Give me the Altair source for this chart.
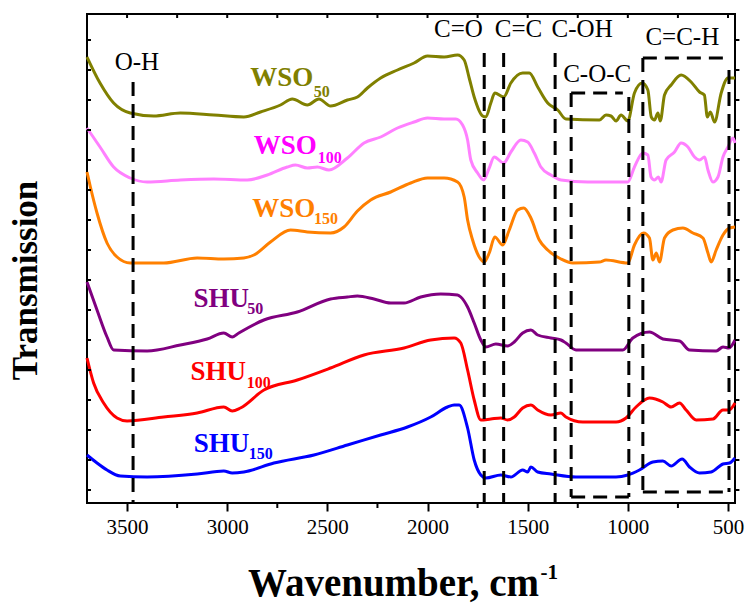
import altair as alt
import pandas as pd

# ---------------- data (wavenumber in cm^-1, transmission in arbitrary offset units) -------------
wso50_wn = [3700, 3635, 3567, 3484, 3367, 3234, 3067, 2917, 2834, 2734, 2675, 2600, 2542, 2484, 2400,
            2350, 2300, 2234, 2150, 2067, 2000, 1917, 1850, 1817, 1792, 1767, 1725, 1709, 1684, 1664,
            1620, 1584, 1525, 1492, 1450, 1400, 1350, 1309, 1142, 1109, 1084, 1059, 1034, 1000, 967,
            928, 900, 883, 867, 850, 838, 817, 784, 734, 684, 642, 618, 603, 588, 567, 534, 500, 465]
wso50_t = [433, 407, 387, 377, 374, 377, 375, 373, 378, 385, 391, 385, 391, 384, 390,
           393, 402, 412, 420, 427, 434, 433, 435, 430, 412, 393, 374, 373, 387, 397,
           393, 407, 417, 417, 403, 387, 380, 371, 370, 375, 374, 369, 375, 369, 397,
           407, 400, 373, 370, 377, 369, 395, 405, 415, 408, 398, 395, 373, 378, 368, 397, 412, 412]

wso100_wn = [3700, 3635, 3567, 3484, 3400, 3234, 3067, 2900, 2800, 2700, 2659, 2600, 2550, 2492, 2400,
             2317, 2234, 2150, 2067, 2000, 1917, 1859, 1825, 1800, 1784, 1750, 1720, 1692, 1667, 1620,
             1584, 1534, 1500, 1467, 1434, 1384, 1334, 1200, 1000, 967, 925, 900, 884, 867, 847,
             834, 809, 767, 734, 700, 667, 642, 617, 600, 575, 550, 525, 500, 475, 465]
wso100_t = [362, 343, 323, 312, 308, 310, 311, 310, 315, 323, 325, 322, 323, 320, 332,
            347, 353, 362, 368, 372, 371, 371, 365, 350, 330, 317, 310, 322, 333, 327,
            338, 350, 348, 337, 323, 315, 310, 308, 308, 323, 337, 335, 313, 310, 313,
            308, 330, 338, 347, 343, 333, 330, 333, 320, 308, 313, 333, 343, 352, 347]

wso150_wn = [3700, 3683, 3650, 3600, 3550, 3484, 3317, 3150, 3017, 2917, 2867, 2784, 2684, 2600, 2484,
             2417, 2350, 2284, 2184, 2084, 2000, 1917, 1850, 1817, 1800, 1775, 1742, 1717, 1692, 1664,
             1625, 1592, 1550, 1520, 1484, 1442, 1400, 1334, 1275, 1142, 1109, 1000, 967, 922, 892,
             875, 858, 842, 817, 775, 725, 675, 625, 600, 584, 559, 525, 492, 465]
wso150_t = [318, 303, 277, 247, 233, 227, 227, 232, 231, 232, 235, 248, 260, 258, 257,
            263, 279, 290, 298, 307, 312, 312, 308, 293, 270, 250, 233, 228, 237, 253,
            245, 260, 280, 282, 272, 250, 240, 231, 227, 228, 230, 227, 245, 257, 252,
            230, 237, 228, 252, 260, 262, 257, 252, 237, 228, 240, 255, 262, 263]

shu50_wn = [3700, 3650, 3600, 3567, 3400, 3234, 3100, 3017, 2975, 2942, 2817, 2650, 2484, 2400, 2350,
            2267, 2184, 2117, 2034, 1934, 1850, 1834, 1800, 1767, 1734, 1709, 1659, 1600, 1567, 1525,
            1484, 1450, 1384, 1334, 1309, 1259, 1025, 975, 892, 825, 742, 692, 559, 525, 495, 465]
shu50_t = [208, 180, 153, 140, 139, 145, 151, 157, 153, 157, 170, 178, 191, 193, 194,
           191, 187, 187, 193, 196, 195, 193, 183, 167, 150, 143, 146, 144, 148, 157,
           160, 155, 152, 150, 147, 140, 140, 152, 158, 151, 149, 140, 139, 143, 142, 150]

shu100_wn = [3700, 3667, 3617, 3550, 3500, 3317, 3150, 3017, 2975, 2934, 2817, 2650, 2484, 2317, 2117,
             1984, 1867, 1834, 1800, 1767, 1734, 1684, 1634, 1600, 1567, 1525, 1484, 1450, 1384, 1334,
             1309, 1225, 1059, 1009, 959, 892, 825, 784, 742, 709, 659, 575, 525, 495, 465]
shu100_t = [132, 107, 87, 72, 69, 73, 77, 83, 79, 82, 100, 110, 122, 135, 142,
            150, 152, 147, 120, 90, 70, 71, 72, 70, 73, 82, 85, 80, 75, 77,
            73, 68, 68, 72, 83, 92, 88, 83, 87, 80, 70, 71, 80, 80, 87]

shu150_wn = [3700, 3650, 3600, 3534, 3400, 3150, 3017, 2975, 2917, 2767, 2567, 2400, 2234, 2100, 1984,
             1900, 1867, 1842, 1800, 1767, 1734, 1709, 1634, 1584, 1525, 1500, 1484, 1450, 1384, 1259,
             1059, 1000, 942, 875, 825, 784, 729, 692, 642, 584, 525, 492, 465]
shu150_t = [35, 27, 20, 14, 13, 16, 19, 17, 18, 27, 35, 45, 55, 63, 73,
            83, 85, 85, 62, 30, 15, 12, 15, 13, 20, 18, 23, 18, 16, 13,
            13, 15, 20, 28, 29, 24, 31, 23, 17, 18, 26, 27, 32]

series_names = ["WSO50", "WSO100", "WSO150", "SHU50", "SHU100", "SHU150"]
line_colors = ["#808000", "#FF80FF", "#FF8000", "#800080", "#FF0000", "#0000FF"]
label_colors = ["#808000", "#FF00FF", "#FF8000", "#800080", "#FF0000", "#0000FF"]

# series labels: main text, subscript, anchor positions (wn, t)
label_main = ["WSO", "WSO", "WSO", "SHU", "SHU", "SHU"]
label_sub = ["50", "100", "150", "50", "100", "150"]
label_wn = [2885, 2868, 2875, 3168, 3183, 3167]
label_t = [404, 336, 273, 183, 110, 38]
sub_wn = [2568, 2548, 2567, 2900, 2903, 2892]
sub_t = [393, 327, 266, 176, 102, 31]

# band annotations
band_text = ["O-H", "C=O", "C=C", "C-OH", "C-O-C", "C=C-H"]
band_wn = [3451, 1846, 1546, 1228, 1153, 728]
band_t = [420, 453, 453, 453, 408, 445]

# dashed guide segments (x, x2, y, y2)
seg_x1 = [3470, 1717, 1620, 1363, 1283, 1283, 995, 1283, 925, 925, 495, 925]
seg_x2 = [3470, 1717, 1620, 1363, 1283, 1025, 995, 995, 925, 518, 495, 495]
seg_y1 = [408, 437, 437, 437, 397, 397, 393, -7, 432, 432, 420, -2]
seg_y2 = [-13, -13, -13, -13, -7, 397, -7, -7, -2, 432, -2, -2]

x_major = [3500, 3000, 2500, 2000, 1500, 1000, 500]
x_minor = [3250, 2750, 2250, 1750, 1250, 750]
y_ticks = [0, 30, 60, 90, 120, 150, 180, 210, 240, 270, 300, 330, 360, 390, 420, 450]

X_DOM = [3700, 465]
Y_DOM = [-13, 476]

# ---------------- tables ----------------
series_data = [wso50_wn, wso100_wn, wso150_wn, shu50_wn, shu100_wn, shu150_wn]
series_vals = [wso50_t, wso100_t, wso150_t, shu50_t, shu100_t, shu150_t]
rows = []
for name, wns, ts in zip(series_names, series_data, series_vals):
    for w, t in zip(wns, ts):
        rows.append({"series": name, "wn": w, "t": t})
df = pd.DataFrame(rows)

lab_df = pd.DataFrame({
    "text": label_main + label_sub,
    "wn": label_wn + sub_wn,
    "t": label_t + sub_t,
    "col": label_colors + label_colors,
    "fs": [27] * 6 + [16] * 6,
})
band_df = pd.DataFrame({"text": band_text, "wn": band_wn, "t": band_t})
seg_df = pd.DataFrame({"x1": seg_x1, "x2": seg_x2, "y1": seg_y1, "y2": seg_y2})

tick_rows = []
for w in x_major + x_minor:
    tick_rows.append({"x1": w, "x2": w, "y1": Y_DOM[1], "y2": Y_DOM[1] - 4})
for w in x_minor:
    tick_rows.append({"x1": w, "x2": w, "y1": Y_DOM[0], "y2": Y_DOM[0] - 5})
for v in y_ticks:
    tick_rows.append({"x1": X_DOM[0], "x2": X_DOM[0] - 20, "y1": v, "y2": v})
    tick_rows.append({"x1": X_DOM[1], "x2": X_DOM[1] - 22, "y1": v, "y2": v})
tick_df = pd.DataFrame(tick_rows)

title_df = pd.DataFrame({"text": ["Wavenumber, cm", "-1"], "wn": [1443, 1436], "t": [-106, -89]})

xs = alt.Scale(domain=X_DOM, nice=False, zero=False)
ys = alt.Scale(domain=Y_DOM, nice=False, zero=False)
SERIF = "Liberation Serif"

X_AXIS = alt.Axis(
    values=x_major, format="d", title=None, tickSize=8, tickWidth=2, tickColor="black",
    labelFont=SERIF, labelFontSize=21, labelColor="black", labelPadding=5,
    domain=False, grid=False)
Y_AXIS = alt.Axis(
    title="Transmission", labels=False, ticks=False, domain=False, grid=False,
    titleFont=SERIF, titleFontSize=35, titleFontWeight="bold", titleColor="black",
    titleX=-62, titleY=266, titleAngle=270, titleAlign="center", titleBaseline="middle")


def enc_xy(xf, yf):
    return dict(x=alt.X(xf, scale=xs, axis=X_AXIS), y=alt.Y(yf, scale=ys, axis=Y_AXIS))


lines = alt.Chart(df).mark_line(strokeWidth=3, interpolate="monotone").encode(
    **enc_xy("wn:Q", "t:Q"),
    color=alt.Color("series:N", scale=alt.Scale(domain=series_names, range=line_colors), legend=None),
)

segs = alt.Chart(seg_df).mark_rule(color="black", strokeWidth=3, strokeDash=[14, 8]).encode(
    **enc_xy("x1:Q", "y1:Q"), x2="x2:Q", y2="y2:Q",
)

ticks = alt.Chart(tick_df).mark_rule(color="black", strokeWidth=2).encode(
    **enc_xy("x1:Q", "y1:Q"), x2="x2:Q", y2="y2:Q",
)

labels = alt.Chart(lab_df).mark_text(font=SERIF, fontWeight="bold", align="left",
                                     baseline="alphabetic").encode(
    **enc_xy("wn:Q", "t:Q"),
    text="text:N",
    color=alt.Color("col:N", scale=None),
    size=alt.Size("fs:Q", scale=None),
)

bands = alt.Chart(band_df).mark_text(font=SERIF, fontSize=25, align="center",
                                     baseline="alphabetic", color="black").encode(
    **enc_xy("wn:Q", "t:Q"), text="text:N",
)

xtitle_main = alt.Chart(title_df.iloc[[0]]).mark_text(
    font=SERIF, fontWeight="bold", fontSize=39, align="right", baseline="alphabetic", color="black"
).encode(**enc_xy("wn:Q", "t:Q"), text="text:N")
xtitle_sup = alt.Chart(title_df.iloc[[1]]).mark_text(
    font=SERIF, fontWeight="bold", fontSize=21, align="left", baseline="alphabetic", color="black"
).encode(**enc_xy("wn:Q", "t:Q"), text="text:N")

chart = alt.layer(lines, segs, ticks, labels, bands, xtitle_main, xtitle_sup).properties(
    width=648, height=489,
    autosize=alt.AutoSizeParams(type="none"),
    padding={"left": 87, "top": 14, "right": 19, "bottom": 105},
    background="white",
).configure_view(stroke="black", strokeWidth=2)

chart.save("out.html", embed_options={"renderer": "svg", "actions": False})
